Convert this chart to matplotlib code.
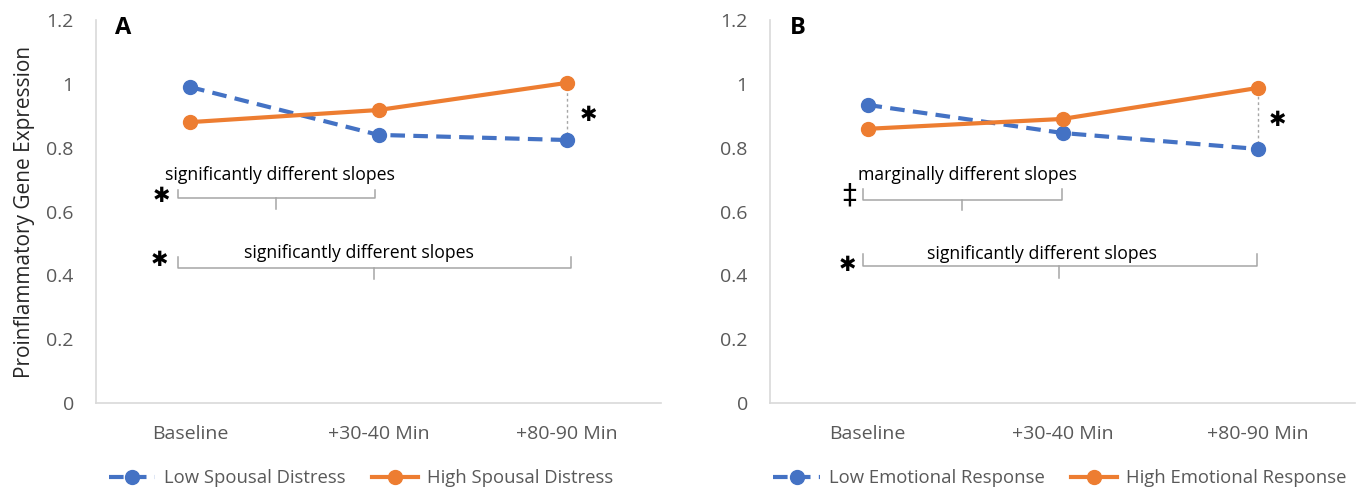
import matplotlib.pyplot as plt

plt.rcParams['font.family'] = ['Open Sans', 'DejaVu Sans']

# datos
tiempos = ['Baseline', '+30-40 Min', '+80-90 Min']
y_ticks = [0, 0.2, 0.4, 0.6, 0.8, 1.0, 1.2]
y_labels = ['0', '0.2', '0.4', '0.6', '0.8', '1', '1.2']

a_bajo = [0.99, 0.84, 0.824]
a_alto = [0.88, 0.918, 1.003]
b_bajo = [0.934, 0.846, 0.796]
b_alto = [0.859, 0.89, 0.987]

a_series = ['Low Spousal Distress', 'High Spousal Distress']
b_series = ['Low Emotional Response', 'High Emotional Response']

AZUL = '#4472C4'
NARANJA = '#ED7D31'
GRIS = '#595959'
LINEA = '#D9D9D9'

W, H = 1357, 491
fig = plt.figure(figsize=(W / 100, H / 100), dpi=100)


def px_ax(x0, x1, y0=20, y1=403):
    return fig.add_axes([x0 / W, 1 - y1 / H, (x1 - x0) / W, (y1 - y0) / H])


def llave(ax, x0, x1, xm, y_top, y_mid, y_bot):
    # llave horizontal (bracket) bajo las lineas
    c = '#A6A6A6'
    ax.plot([x0, x0, x1, x1], [y_top, y_mid, y_mid, y_top], color=c, lw=1.1, solid_joinstyle='round')
    ax.plot([xm, xm], [y_mid, y_bot], color=c, lw=1.1)


def asterisco(ax, x, y, s='\u2731', size=15):
    ax.text(x, y, s, fontsize=size, ha='center', va='center', family='DejaVu Sans')


def panel(ax, bajo, alto, nombres, letra):
    x = range(len(tiempos))
    ax.plot(x, bajo, color=AZUL, lw=3, ls=(0, (3.5, 2)), marker='o', ms=10,
            label=nombres[0], dash_capstyle='butt')
    ax.plot(x, alto, color=NARANJA, lw=3, marker='o', ms=10, label=nombres[1])
    ax.set_xlim(-0.5, 2.5)
    ax.set_ylim(0, 1.2)
    ax.set_xticks(list(x))
    ax.set_xticklabels(tiempos)
    ax.set_yticks(y_ticks)
    ax.set_yticklabels(y_labels)
    ax.tick_params(length=0, labelsize=14, colors=GRIS)
    ax.tick_params(axis='x', pad=16)
    ax.tick_params(axis='y', pad=16)
    for s in ['top', 'right']:
        ax.spines[s].set_visible(False)
    for s in ['left', 'bottom']:
        ax.spines[s].set_color(LINEA)
        ax.spines[s].set_linewidth(1.2)
    ax.text(0.048, 0.979, letra, transform=ax.transAxes, fontsize=17,
            fontweight='bold', ha='center', va='center')
    # linea punteada vertical al final
    ax.plot([2, 2], [bajo[2], alto[2]], color='#A6A6A6', lw=1, ls=(0, (2, 2)), zorder=1)


# Panel A
ax1 = px_ax(96, 661)
panel(ax1, a_bajo, a_alto, a_series, 'A')
ax1.set_ylabel('Proinflammatory Gene Expression', fontsize=15, color='#262626', labelpad=8)
llave(ax1, -0.065, 0.98, 0.456, 0.667, 0.642, 0.608)
llave(ax1, -0.065, 2.02, 0.976, 0.459, 0.423, 0.389)
ax1.text(0.477, 0.713, 'significantly different slopes', fontsize=12.7, ha='center', va='center')
ax1.text(0.897, 0.47, 'significantly different slopes', fontsize=12.7, ha='center', va='center')
asterisco(ax1, -0.155, 0.649)
asterisco(ax1, -0.165, 0.448)
asterisco(ax1, 2.112, 0.902)

# Panel B
ax2 = px_ax(770, 1355)
panel(ax2, b_bajo, b_alto, b_series, 'B')
llave(ax2, -0.023, 0.997, 0.485, 0.670, 0.636, 0.605)
llave(ax2, -0.023, 1.997, 0.98, 0.468, 0.429, 0.392)
ax2.text(0.515, 0.713, 'marginally different slopes', fontsize=12.7, ha='center', va='center')
ax2.text(0.895, 0.467, 'significantly different slopes', fontsize=12.7, ha='center', va='center')
asterisco(ax2, -0.095, 0.649, '\u2021', 20)
asterisco(ax2, -0.105, 0.432)
asterisco(ax2, 2.1, 0.887)

# leyendas
for ax, cx in [(ax1, 361), (ax2, 1060)]:
    h, l = ax.get_legend_handles_labels()
    fig.legend(h, l, loc='center', bbox_to_anchor=(cx / W, 1 - 478 / H), ncol=2,
               frameon=False, fontsize=13.3, handlelength=2.5, columnspacing=1.4,
               handletextpad=0.5, labelcolor=GRIS)

fig.savefig('out.png', dpi=100)
